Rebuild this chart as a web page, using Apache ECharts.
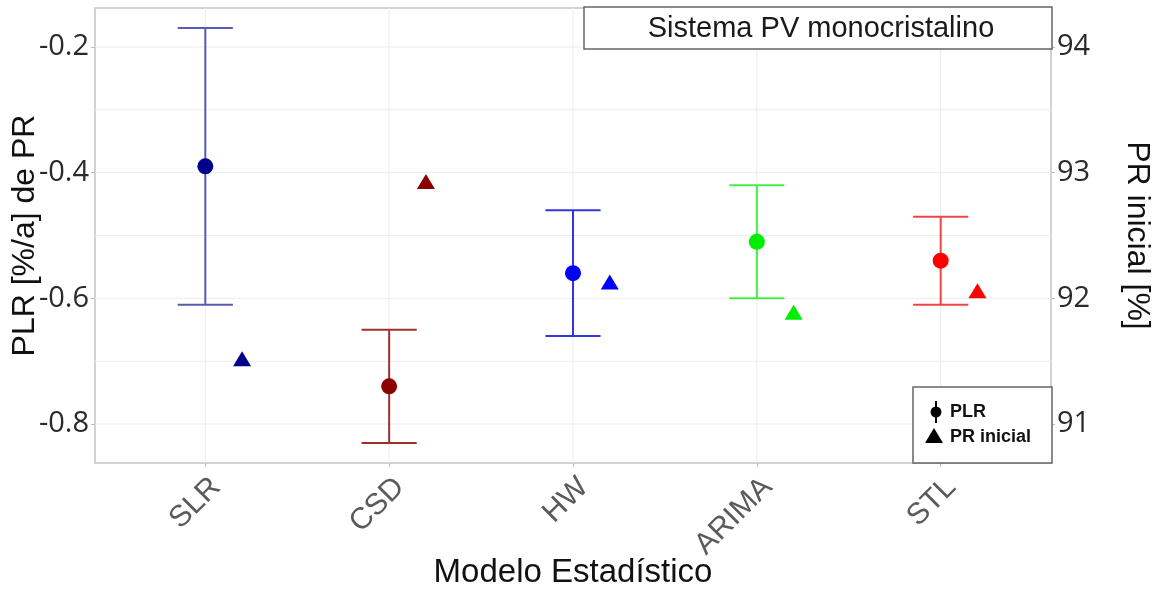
<!DOCTYPE html>
<html>
<head>
<meta charset="utf-8">
<script src="https://cdn.jsdelivr.net/npm/echarts@6/dist/echarts.min.js"></script>
<style>
  html, body { margin: 0; padding: 0; background: #fff; }
  #chart { width: 1162px; height: 592px; }
</style>
</head>
<body>
<div id="chart"></div>
<script>
// Statistical models compared
const categories = ['SLR', 'CSD', 'HW', 'ARIMA', 'STL'];
// Performance loss rate (%/a) with its interval bounds
const plr     = [-0.39, -0.74, -0.56, -0.51, -0.54];
const plrLow  = [-0.61, -0.83, -0.66, -0.60, -0.61];
const plrHigh = [-0.17, -0.65, -0.46, -0.42, -0.47];
// Initial performance ratio (%)
const prInicial = [91.52, 92.93, 92.13, 91.89, 92.06];
// Left / right axis tick labels
const plrTicks = [-0.8, -0.6, -0.4, -0.2];
const plrMinorGrid = [-0.8, -0.7, -0.6, -0.5, -0.4, -0.3, -0.2];
const prTicks = [91, 92, 93, 94];

const colors = ['#00008B', '#8B0000', '#0000FF', '#00EE00', '#FF0000'];
const barColors = ['#5a5ab0', '#a03030', '#3434e0', '#44ee44', '#ee4444'];

const DODGE = 0.2;      // horizontal shift of the PR marker
const CAP = 0.3;        // width of the error-bar caps (x units)

const chart = echarts.init(document.getElementById('chart'), null, { renderer: 'canvas' });

const catIdx = categories.map((_, i) => i);
const gridStroke = { stroke: '#ececec', lineWidth: 1 };
const fontMain = 'Liberation Sans, Arial, sans-serif';
const fontTicks = 'Open Sans, Liberation Sans, sans-serif';
const TOP = 200;   // z for the boxed annotations

const option = {
  animation: false,
  grid: {
    left: 95, top: 8, width: 956, height: 455,
    containLabel: false, outerBoundsMode: 'none',
    show: true, borderColor: '#c4c4c4', borderWidth: 1.5, backgroundColor: '#fff'
  },
  xAxis: {
    type: 'value', min: -0.6, max: 4.6,
    name: 'Modelo Estadístico', nameLocation: 'middle', nameGap: 93, nameMoveOverlap: false,
    nameTextStyle: { fontSize: 33, color: '#111', fontFamily: fontMain },
    axisLine: { show: false, onZero: false },
    axisTick: { show: true, customValues: catIdx, length: 4, lineStyle: { color: '#bbb' } },
    axisLabel: {
      customValues: catIdx, rotate: 45, fontSize: 30, color: '#5a5a5a', margin: 9,
      verticalAlign: 'top', fontFamily: fontMain, formatter: v => categories[Math.round(v)]
    },
    splitLine: { show: false }
  },
  yAxis: [{
    type: 'value', min: -0.862, max: -0.138, position: 'left',
    name: 'PLR [%/a] de PR', nameLocation: 'middle', nameGap: 54, nameMoveOverlap: false,
    nameTextStyle: { fontSize: 32, color: '#111', fontFamily: fontMain },
    axisLine: { show: false, onZero: false },
    axisTick: { show: true, customValues: plrTicks, length: 4, lineStyle: { color: '#bbb' } },
    axisLabel: {
      customValues: plrTicks, fontSize: 29, color: '#2a2a2a', margin: 6,
      fontFamily: fontTicks, formatter: v => v.toFixed(1)
    },
    splitLine: { show: false }
  }, {
    type: 'value', min: 90.69, max: 94.31, position: 'right',
    name: 'PR inicial [%]', nameLocation: 'middle', nameGap: 70, nameRotate: -90, nameMoveOverlap: false,
    nameTextStyle: { fontSize: 32, color: '#111', fontFamily: fontMain },
    axisLine: { show: false, onZero: false },
    axisTick: { show: true, customValues: prTicks, length: 4, lineStyle: { color: '#bbb' } },
    axisLabel: {
      customValues: prTicks, fontSize: 29, color: '#2a2a2a', margin: 6,
      fontFamily: fontTicks, formatter: v => String(v)
    },
    splitLine: { show: false }
  }],
  series: [
    {
      // horizontal panel grid lines
      type: 'custom', z: 1, silent: true,
      data: plrMinorGrid.map(v => [0, v]),
      renderItem: (params, api) => {
        const cs = params.coordSys;
        const y = api.coord([0, api.value(1)])[1];
        return { type: 'line', shape: { x1: cs.x, y1: y, x2: cs.x + cs.width, y2: y }, style: gridStroke };
      }
    },
    {
      // vertical panel grid lines at each model
      type: 'custom', z: 1, silent: true,
      data: catIdx.map(i => [i, -0.5]),
      renderItem: (params, api) => {
        const cs = params.coordSys;
        const x = api.coord([api.value(0), -0.5])[0];
        return { type: 'line', shape: { x1: x, y1: cs.y, x2: x, y2: cs.y + cs.height }, style: gridStroke };
      }
    },
    {
      // interval bars with caps
      type: 'custom', z: 3,
      data: catIdx.map(i => [i, plrLow[i], plrHigh[i]]),
      renderItem: (params, api) => {
        const i = api.value(0);
        const lo = api.coord([i, api.value(1)]);
        const hi = api.coord([i, api.value(2)]);
        const half = api.size([CAP, 0])[0] / 2;
        const style = { stroke: barColors[params.dataIndex], lineWidth: 2 };
        return {
          type: 'group',
          children: [
            { type: 'line', shape: { x1: lo[0], y1: lo[1], x2: hi[0], y2: hi[1] }, style },
            { type: 'line', shape: { x1: lo[0] - half, y1: lo[1], x2: lo[0] + half, y2: lo[1] }, style },
            { type: 'line', shape: { x1: hi[0] - half, y1: hi[1], x2: hi[0] + half, y2: hi[1] }, style }
          ]
        };
      }
    },
    {
      name: 'PLR', type: 'scatter', z: 4, symbol: 'circle', symbolSize: 16,
      data: catIdx.map(i => ({ value: [i, plr[i]], itemStyle: { color: colors[i], opacity: 1 } }))
    },
    {
      name: 'PR inicial', type: 'scatter', z: 4, yAxisIndex: 1, symbol: 'triangle', symbolSize: [18, 15],
      data: catIdx.map(i => ({ value: [i + DODGE, prInicial[i]], itemStyle: { color: colors[i], opacity: 1 } }))
    }
  ],
  graphic: [
    // title box
    { type: 'rect', z: TOP, shape: { x: 584, y: 7, width: 468, height: 42 },
      style: { fill: '#fff', stroke: '#666', lineWidth: 1.5 } },
    { type: 'text', z: TOP + 1, x: 821, y: 29,
      style: { text: 'Sistema PV monocristalino', fontSize: 29, fill: '#1a1a1a',
               fontFamily: fontMain, align: 'center', verticalAlign: 'middle' } },
    // legend box
    { type: 'rect', z: TOP, shape: { x: 913, y: 387, width: 139, height: 76 },
      style: { fill: '#fff', stroke: '#666', lineWidth: 1.5 } },
    { type: 'line', z: TOP + 1, shape: { x1: 936, y1: 401, x2: 936, y2: 423 },
      style: { stroke: '#000', lineWidth: 2 } },
    { type: 'circle', z: TOP + 1, shape: { cx: 936, cy: 412, r: 5.5 }, style: { fill: '#000' } },
    { type: 'text', z: TOP + 1, x: 950, y: 412,
      style: { text: 'PLR', fontSize: 18, fill: '#111', fontWeight: 'bold',
               fontFamily: fontMain, verticalAlign: 'middle' } },
    { type: 'polygon', z: TOP + 1, shape: { points: [[934, 428], [943, 443], [925, 443]] },
      style: { fill: '#000' } },
    { type: 'text', z: TOP + 1, x: 950, y: 437,
      style: { text: 'PR inicial', fontSize: 18, fill: '#111', fontWeight: 'bold',
               fontFamily: fontMain, verticalAlign: 'middle' } }
  ]
};

chart.setOption(option);
</script>
</body>
</html>
